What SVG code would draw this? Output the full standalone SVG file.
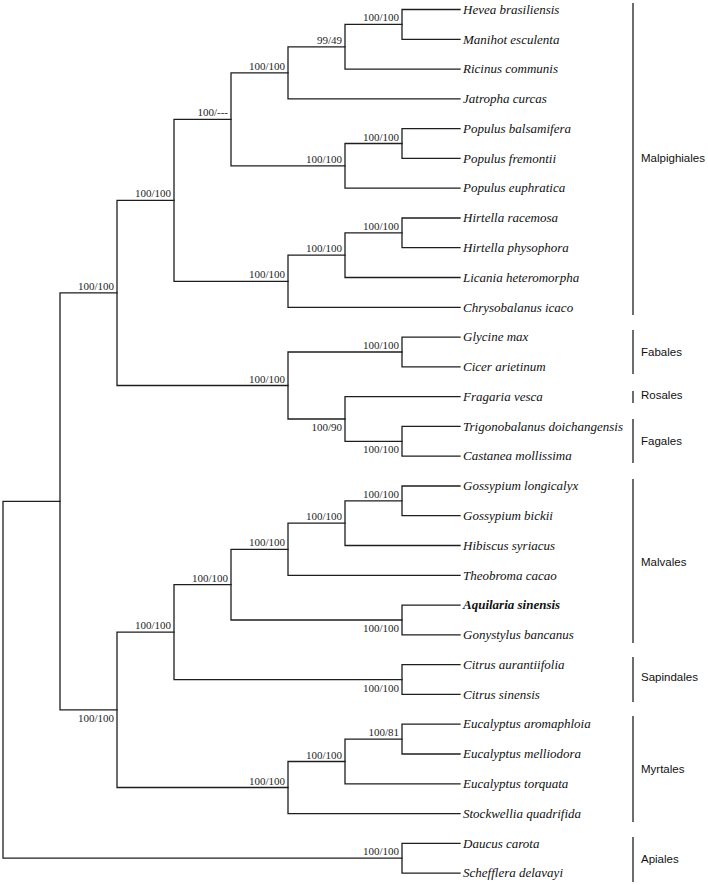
<svg xmlns="http://www.w3.org/2000/svg" width="708" height="885" viewBox="0 0 708 885">
<style>
.br{fill:none;stroke:#1e1e1e;stroke-width:1.3;stroke-linecap:square}
.bs{font-family:"Liberation Serif","Times New Roman",serif;font-size:11px;fill:#1e1e1e;text-anchor:end}
.tx{font-family:"Liberation Serif","Times New Roman",serif;font-size:13px;font-style:italic;fill:#111}
.bold{font-weight:bold}
.ord{font-family:"Liberation Sans",Arial,sans-serif;font-size:11.5px;fill:#111}
.bk{stroke:#1e1e1e;stroke-width:1.3}
</style>
<rect width="708" height="885" fill="#fff"/>
<g id="connectors" class="br">
<path d="M460 9.5H402V39.3H460"/>
<path d="M402 24.4H345V69.1H460"/>
<path d="M345 46.8H288V98.8H460"/>
<path d="M460 128.6H402V158.4H460"/>
<path d="M402 143.5H345V188.2H460"/>
<path d="M288 72.8H231V165.9H345"/>
<path d="M460 218H402V247.7H460"/>
<path d="M402 232.9H345V277.5H460"/>
<path d="M345 255.2H288V307.3H460"/>
<path d="M231 119.3H174V281.3H288"/>
<path d="M460 337.1H402V366.9H460"/>
<path d="M460 426.4H402V456.2H460"/>
<path d="M460 396.6H345V441.3H402"/>
<path d="M402 352H288V419H345"/>
<path d="M174 200.3H117V385.5H288"/>
<path d="M460 486H402V515.7H460"/>
<path d="M402 500.9H345V545.5H460"/>
<path d="M345 523.2H288V575.3H460"/>
<path d="M460 605.1H402V634.9H460"/>
<path d="M288 549.3H231V620H402"/>
<path d="M460 664.7H402V694.4H460"/>
<path d="M231 584.6H174V679.6H402"/>
<path d="M460 724.2H402V754H460"/>
<path d="M402 739.1H345V783.8H460"/>
<path d="M345 761.5H288V813.6H460"/>
<path d="M174 632.1H117V787.5H288"/>
<path d="M117 292.9H60V709.8H117"/>
<path d="M460 843.3H402V873.1H460"/>
<path d="M60 501.4H3V858.2H402"/>
</g>
<g id="support">
<text class="bs" x="399" y="21.4">100/100</text>
<text class="bs" x="342" y="43.8">99/49</text>
<text class="bs" x="285" y="69.8">100/100</text>
<text class="bs" x="228" y="116.3">100/---</text>
<text class="bs" x="399" y="140.5">100/100</text>
<text class="bs" x="342" y="162.9">100/100</text>
<text class="bs" x="171" y="197.3">100/100</text>
<text class="bs" x="399" y="229.9">100/100</text>
<text class="bs" x="342" y="252.2">100/100</text>
<text class="bs" x="285" y="278.3">100/100</text>
<text class="bs" x="114" y="289.9">100/100</text>
<text class="bs" x="399" y="349">100/100</text>
<text class="bs" x="285" y="382.5">100/100</text>
<text class="bs" x="342" y="431">100/90</text>
<text class="bs" x="399" y="453.3">100/100</text>
<text class="bs" x="399" y="497.9">100/100</text>
<text class="bs" x="342" y="520.2">100/100</text>
<text class="bs" x="285" y="546.3">100/100</text>
<text class="bs" x="228" y="581.6">100/100</text>
<text class="bs" x="399" y="632">100/100</text>
<text class="bs" x="171" y="629.1">100/100</text>
<text class="bs" x="399" y="691.6">100/100</text>
<text class="bs" x="114" y="721.8">100/100</text>
<text class="bs" x="399" y="736.1">100/81</text>
<text class="bs" x="342" y="758.5">100/100</text>
<text class="bs" x="285" y="784.5">100/100</text>
<text class="bs" x="399" y="855.2">100/100</text>
</g>
<g id="taxa">
<g id="hevea"><text class="tx" x="463" y="13.7">Hevea brasiliensis</text></g>
<g id="manihot"><text class="tx" x="463" y="43.5">Manihot esculenta</text></g>
<g id="ricinus"><text class="tx" x="463" y="73.3">Ricinus communis</text></g>
<g id="jatropha"><text class="tx" x="463" y="103">Jatropha curcas</text></g>
<g id="pbal"><text class="tx" x="463" y="132.8">Populus balsamifera</text></g>
<g id="pfre"><text class="tx" x="463" y="162.6">Populus fremontii</text></g>
<g id="peup"><text class="tx" x="463" y="192.4">Populus euphratica</text></g>
<g id="hrac"><text class="tx" x="463" y="222.2">Hirtella racemosa</text></g>
<g id="hphy"><text class="tx" x="463" y="251.9">Hirtella physophora</text></g>
<g id="licania"><text class="tx" x="463" y="281.7">Licania heteromorpha</text></g>
<g id="chrys"><text class="tx" x="463" y="311.5">Chrysobalanus icaco</text></g>
<g id="glycine"><text class="tx" x="463" y="341.3">Glycine max</text></g>
<g id="cicer"><text class="tx" x="463" y="371.1">Cicer arietinum</text></g>
<g id="fragaria"><text class="tx" x="463" y="400.8">Fragaria vesca</text></g>
<g id="trigono"><text class="tx" x="463" y="430.6">Trigonobalanus doichangensis</text></g>
<g id="castanea"><text class="tx" x="463" y="460.4">Castanea mollissima</text></g>
<g id="glong"><text class="tx" x="463" y="490.2">Gossypium longicalyx</text></g>
<g id="gbic"><text class="tx" x="463" y="519.9">Gossypium bickii</text></g>
<g id="hibiscus"><text class="tx" x="463" y="549.7">Hibiscus syriacus</text></g>
<g id="theobroma"><text class="tx" x="463" y="579.5">Theobroma cacao</text></g>
<g id="aquilaria"><text class="tx bold" x="463" y="609.3">Aquilaria sinensis</text></g>
<g id="gonystylus"><text class="tx" x="463" y="639.1">Gonystylus bancanus</text></g>
<g id="caur"><text class="tx" x="463" y="668.9">Citrus aurantiifolia</text></g>
<g id="csin"><text class="tx" x="463" y="698.6">Citrus sinensis</text></g>
<g id="earo"><text class="tx" x="463" y="728.4">Eucalyptus aromaphloia</text></g>
<g id="emel"><text class="tx" x="463" y="758.2">Eucalyptus melliodora</text></g>
<g id="etor"><text class="tx" x="463" y="788">Eucalyptus torquata</text></g>
<g id="stock"><text class="tx" x="463" y="817.8">Stockwellia quadrifida</text></g>
<g id="daucus"><text class="tx" x="463" y="847.5">Daucus carota</text></g>
<g id="schefflera"><text class="tx" x="463" y="877.3">Schefflera delavayi</text></g>
</g>
<g id="orders">
<g id="malpighiales"><line class="bk" x1="633" y1="3" x2="633" y2="315"/><text class="ord" x="641" y="162">Malpighiales</text></g>
<g id="fabales"><line class="bk" x1="633" y1="330" x2="633" y2="374"/><text class="ord" x="641" y="356">Fabales</text></g>
<g id="rosales"><line class="bk" x1="633" y1="391" x2="633" y2="403"/><text class="ord" x="641" y="399">Rosales</text></g>
<g id="fagales"><line class="bk" x1="633" y1="419" x2="633" y2="463"/><text class="ord" x="641" y="445">Fagales</text></g>
<g id="malvales"><line class="bk" x1="633" y1="479" x2="633" y2="643"/><text class="ord" x="641" y="566">Malvales</text></g>
<g id="sapindales"><line class="bk" x1="633" y1="657" x2="633" y2="702"/><text class="ord" x="641" y="681">Sapindales</text></g>
<g id="myrtales"><line class="bk" x1="633" y1="716" x2="633" y2="822"/><text class="ord" x="641" y="773">Myrtales</text></g>
<g id="apiales"><line class="bk" x1="633" y1="837" x2="633" y2="882"/><text class="ord" x="641" y="863">Apiales</text></g>
</g>
</svg>
